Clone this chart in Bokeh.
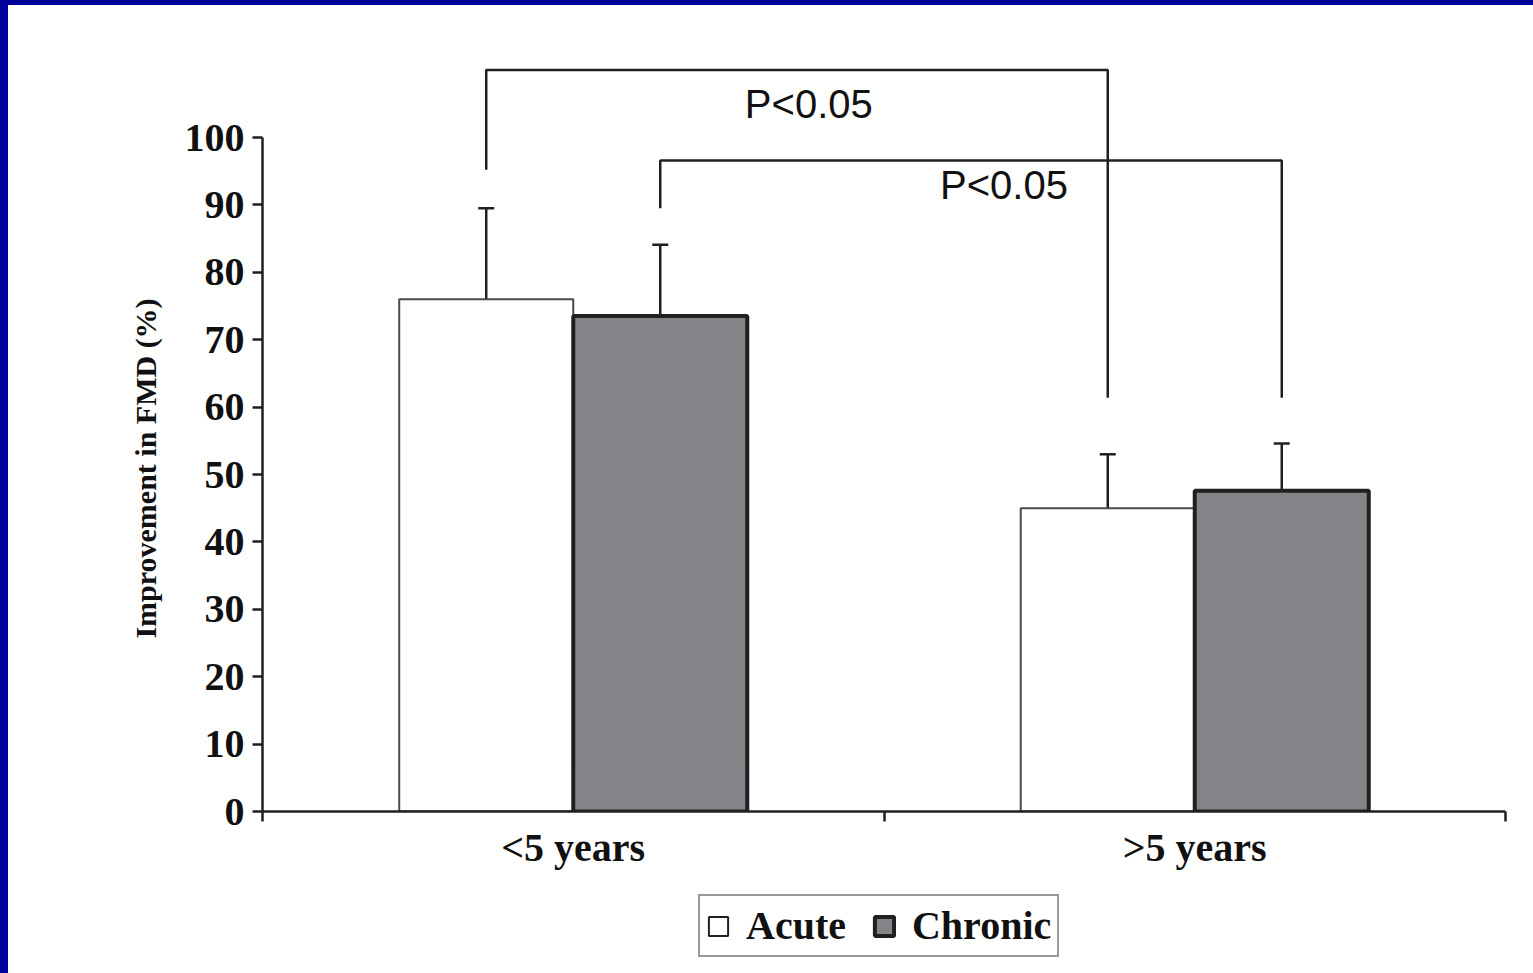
from bokeh.plotting import figure
from bokeh.models import (Range1d, FixedTicker, Whisker, TeeHead, ColumnDataSource,
                          Legend, LegendItem)
from bokeh.layouts import column
from bokeh.embed import file_html
from bokeh.resources import INLINE
from bokeh.core.properties import value

# ---------------- data ----------------
categories = ["<5 years", ">5 years"]
series = ["Acute", "Chronic"]
acute_values = [76.0, 45.0]
chronic_values = [73.5, 47.6]
acute_err_upper = [89.5, 53.0]
chronic_err_upper = [84.1, 54.6]
y_tick_values = [0, 10, 20, 30, 40, 50, 60, 70, 80, 90, 100]

# significance brackets (same series compared across the two categories)
bracket_series = ["Acute", "Chronic"]
bracket_top = [110.0, 96.6]
bracket_left_end = [95.2, 89.5]
bracket_right_end = [61.4, 61.4]
p_labels = ["P<0.05", "P<0.05"]
p_label_x = [0.879, 1.193]
p_label_y = [105.0, 93.0]

y_label = "Improvement in FMD (%)"

# ---------------- style ----------------
INK = "#231f20"
BAR_GRAY = "#838488"
BLUE = "#00009c"
SERIF = "Liberation Serif"
SANS = "Liberation Sans"

offset = 0.14
bar_w = 0.28
cat_centers = [i + 0.5 for i in range(len(categories))]
acute_x = [c - offset for c in cat_centers]
chronic_x = [c + offset for c in cat_centers]

y_top = 791 / 6.74

p = figure(width=1525, height=880, x_range=Range1d(0, 2), y_range=Range1d(0, y_top),
           output_backend="svg", toolbar_location=None,
           min_border_left=254, min_border_right=28, min_border_top=15, min_border_bottom=74)
p.outline_line_color = None
p.grid.grid_line_color = None
p.background_fill_color = "white"
p.border_fill_color = "white"

# bars
r_acute = p.vbar(x=acute_x, top=acute_values, width=bar_w, bottom=0,
                 fill_color="white", line_color="#4a4a4a", line_width=2)
r_chronic = p.vbar(x=chronic_x, top=chronic_values, width=bar_w, bottom=0,
                   fill_color=BAR_GRAY, line_color=INK, line_width=4)

# error bars (upper only)
for xs, lo, hi in ((acute_x, acute_values, acute_err_upper),
                   (chronic_x, chronic_values, chronic_err_upper)):
    src = ColumnDataSource(dict(x=xs, lower=lo, upper=hi))
    w = Whisker(base="x", lower="lower", upper="upper", source=src, dimension="height",
                line_color=INK, line_width=2.5,
                upper_head=TeeHead(size=16, line_color=INK, line_width=2.5),
                lower_head=None)
    p.add_layout(w)

# brackets
series_x = {"Acute": acute_x, "Chronic": chronic_x}
bx, by = [], []
for s, top, le, re in zip(bracket_series, bracket_top, bracket_left_end, bracket_right_end):
    xl, xr = series_x[s][0], series_x[s][1]
    bx.append([xl, xl, xr, xr])
    by.append([le, top, top, re])
p.multi_line(xs=bx, ys=by, line_color=INK, line_width=2.5)

p.text(x=p_label_x, y=p_label_y, text=p_labels, text_font=value(SANS),
       text_font_size="40px", text_align="center", text_baseline="middle", text_color="#111111")

# axes
ya = p.yaxis[0]
ya.ticker = FixedTicker(ticks=y_tick_values)
ya.bounds = (0, 100)
ya.minor_tick_line_color = None
ya.major_tick_out = 10
ya.major_tick_in = 0
ya.major_label_standoff = 8
ya.axis_line_color = INK
ya.axis_line_width = 2.5
ya.major_tick_line_color = INK
ya.major_tick_line_width = 2.5
ya.major_label_text_font = SERIF
ya.major_label_text_font_style = "bold"
ya.major_label_text_font_size = "40px"
ya.major_label_text_color = "#111111"
# trailing no-break spaces shift the centred title down to sit beside the 0-100 span
ya.axis_label = y_label + "\u00a0" * 14
ya.axis_label_text_font = SERIF
ya.axis_label_text_font_style = "bold"
ya.axis_label_text_font_size = "30px"
ya.axis_label_text_color = "#111111"
ya.axis_label_standoff = 20

xa = p.xaxis[0]
xa.ticker = FixedTicker(ticks=cat_centers, minor_ticks=[0, 1, 2])
xa.major_label_overrides = {c: lab for c, lab in zip(cat_centers, categories)}
xa.major_tick_line_color = None
xa.major_tick_out = 0
xa.major_tick_in = 0
xa.minor_tick_out = 10
xa.minor_tick_in = 0
xa.minor_tick_line_color = INK
xa.minor_tick_line_width = 2.5
xa.axis_line_color = INK
xa.axis_line_width = 2.5
xa.major_label_standoff = 3
xa.major_label_text_font = SERIF
xa.major_label_text_font_style = "bold"
xa.major_label_text_font_size = "40px"
xa.major_label_text_color = "#111111"

# legend strip below the chart (its frame is aligned with the chart frame)
pl = figure(width=1525, height=88, x_range=Range1d(0, 1), y_range=Range1d(0, 1),
            output_backend="svg", toolbar_location=None, min_border=0)
pl.axis.visible = False
pl.grid.grid_line_color = None
pl.outline_line_color = None
pl.border_fill_color = "white"
pl.background_fill_color = "white"
# tiny legend proxies hidden underneath the opaque legend box
la = pl.vbar(x=[0.5], top=[0.55], bottom=[0.5], width=0.01,
             fill_color="white", line_color=INK, line_width=2)
lc = pl.vbar(x=[0.5], top=[0.55], bottom=[0.5], width=0.01,
             fill_color=BAR_GRAY, line_color=INK, line_width=4)
legend = Legend(items=[LegendItem(label=series[0], renderers=[la]),
                       LegendItem(label=series[1], renderers=[lc])],
                orientation="horizontal", location=(436, 16),
                border_line_color="#333333", border_line_width=2.5,
                background_fill_color="white", background_fill_alpha=1.0,
                label_text_font=SERIF, label_text_font_style="bold",
                label_text_font_size="40px", label_text_color="#111111",
                glyph_width=24, glyph_height=24, spacing=26, label_standoff=16,
                padding=6, margin=0)
pl.add_layout(legend)

bg = (f"linear-gradient(to right, {BLUE} 8px, transparent 8px), "
      f"linear-gradient(to bottom, {BLUE} 5px, white 5px)")
layout = column(p, pl, spacing=0,
                styles={"background": bg, "padding-left": "8px", "padding-top": "5px"})

open("out.html", "w").write(file_html(layout, INLINE))
